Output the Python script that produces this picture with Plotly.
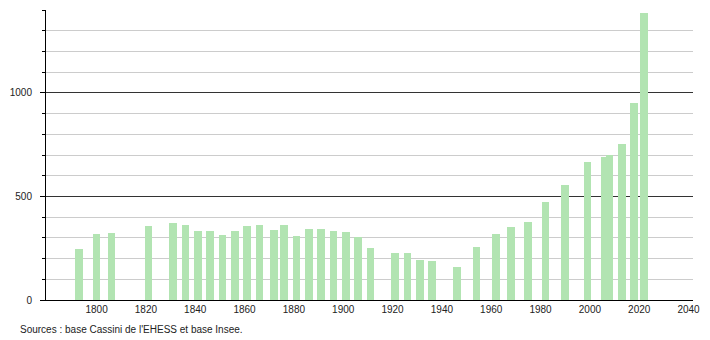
import plotly.graph_objects as go

years = [1793, 1800, 1806, 1821, 1831, 1836, 1841, 1846, 1851, 1856,
         1861, 1866, 1872, 1876, 1881, 1886, 1891, 1896, 1901, 1906,
         1911, 1921, 1926, 1931, 1936, 1946, 1954, 1962, 1968, 1975,
         1982, 1990, 1999, 2006, 2008, 2013, 2018, 2022]
population = [247, 319, 325, 358, 371, 364, 334, 331, 313, 332,
              358, 363, 339, 363, 310, 342, 343, 334, 326, 305,
              253, 227, 226, 194, 189, 158, 255, 318, 352, 377,
              474, 556, 666, 690, 698, 755, 951, 1384]

x_ticks = list(range(1800, 2041, 20))
y_labels = [0, 500, 1000]
source_text = "Sources : base Cassini de l'EHESS et base Insee."

bar_color = "rgb(178,228,178)"

fig = go.Figure()
fig.add_trace(go.Bar(
    x=years, y=population, width=3.1,
    marker=dict(color=bar_color, line=dict(width=0)),
    hoverinfo="x+y",
))

fig.update_layout(
    width=710, height=340,
    margin=dict(l=44, r=10, t=10, b=40),
    paper_bgcolor="white", plot_bgcolor="white",
    showlegend=False,
    bargap=0,
    font=dict(family="Liberation Sans, Arial, sans-serif", size=10, color="#222222"),
    xaxis=dict(
        range=[1779.5, 2041.8],
        tickvals=x_ticks,
        ticktext=[str(t) for t in x_ticks],
        showgrid=False, zeroline=False,
        showline=True, linecolor="black", linewidth=1,
        ticks="", tickfont=dict(size=10),
    ),
    yaxis=dict(
        range=[0, 1400],
        tickvals=y_labels,
        ticktext=[str(v) for v in y_labels],
        showgrid=True, gridcolor="#333333", gridwidth=1,
        zeroline=False,
        showline=True, linecolor="black", linewidth=1,
        ticks="outside", ticklen=5, tickcolor="black", tickwidth=1,
        ticklabelstandoff=6,
        tickfont=dict(size=10),
        minor=dict(dtick=100, tick0=0, ticks="outside", ticklen=3,
                   tickcolor="black", showgrid=True, gridcolor="#cccccc",
                   gridwidth=1),
    ),
    annotations=[dict(
        text=source_text, xref="paper", yref="paper",
        x=-0.043, y=-0.075, xanchor="left", yanchor="top",
        showarrow=False, font=dict(size=10, color="#222222"),
    )],
)

fig.write_html("out.html")
